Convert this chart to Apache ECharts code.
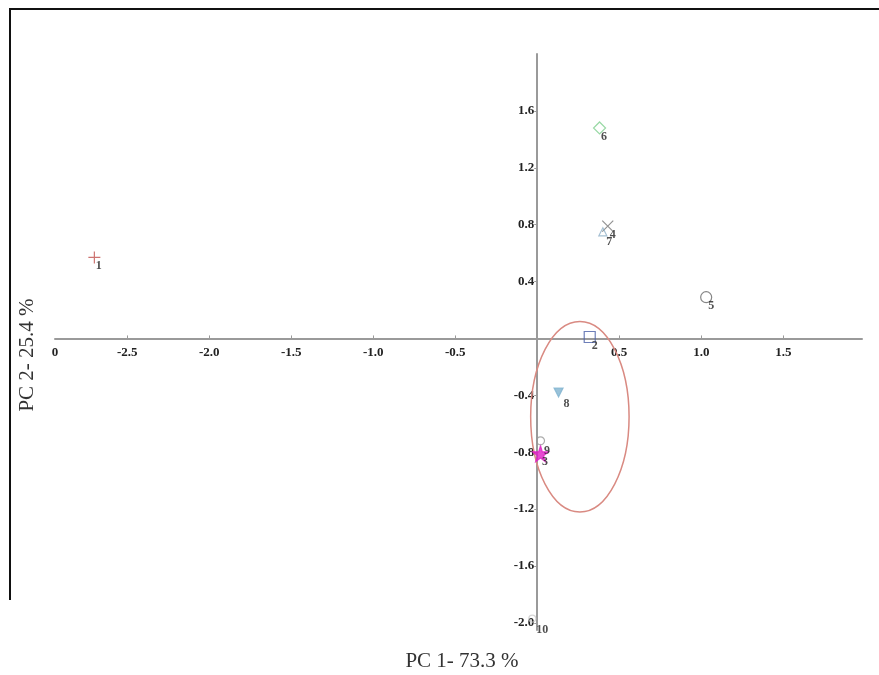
<!DOCTYPE html>
<html>
<head>
<meta charset="utf-8">
<style>
  html, body { margin: 0; padding: 0; background: #fff; }
  #chart { width: 879px; height: 675px; }
</style>
<script src="https://cdn.jsdelivr.net/npm/echarts@6/dist/echarts.min.js"></script>
</head>
<body>
<div id="chart"></div>
<script>
// sample names and PCA scores
var sampleNames = ['1', '2', '3', '4', '5', '6', '7', '8', '9', '10'];
var pc1Values = [-2.70, 0.32, 0.02, 0.43, 1.03, 0.38, 0.40, 0.13, 0.02, -0.03];
var pc2Values = [0.57, 0.01, -0.81, 0.79, 0.29, 1.48, 0.75, -0.38, -0.72, -1.97];
// tick labels
var xTickValues = [-2.5, -2.0, -1.5, -1.0, -0.5, 0.5, 1.0, 1.5];
var yTickValues = [1.6, 1.2, 0.8, 0.4, -0.4, -0.8, -1.2, -1.6, -2.0];
// ellipse round the lower cluster: centre x, centre y, radius x, radius y
var ellipseData = [[0.26, -0.55, 0.30, 0.67]];

var markerStyles = [
  {symbol: 'path://M6,0L6,12M0,6L12,6', size: 12, fill: 'none', stroke: '#c0504d'},
  {symbol: 'rect', size: 11, fill: 'none', stroke: '#4a5fa8'},
  {symbol: 'path://M50,0L61,35L98,35L68,57L79,91L50,70L21,91L32,57L2,35L39,35Z', size: 16, fill: '#e01fc6', stroke: '#e01fc6'},
  {symbol: 'path://M0,0L12,12M12,0L0,12', size: 11, fill: 'none', stroke: '#777'},
  {symbol: 'circle', size: 11, fill: 'none', stroke: '#666'},
  {symbol: 'diamond', size: 12, fill: 'none', stroke: '#7fd08f'},
  {symbol: 'triangle', size: 8, fill: 'none', stroke: '#8fb0c8'},
  {symbol: 'path://M0,0L12,0L6,10Z', size: 9, fill: '#7fb3d0', stroke: '#7fb3d0'},
  {symbol: 'circle', size: 8, fill: 'none', stroke: '#999'},
  {symbol: 'circle', size: 7, fill: 'none', stroke: '#ccc'}
];

var pointData = [];
for (var i = 0; i < sampleNames.length; i++) {
  var st = markerStyles[i];
  pointData.push({
    name: sampleNames[i],
    value: [pc1Values[i], pc2Values[i]],
    symbol: st.symbol,
    symbolSize: st.size,
    itemStyle: {color: st.fill, borderColor: st.stroke, borderWidth: 1.2}
  });
}

var serif = '"Liberation Serif", "DejaVu Serif", serif';
var gridBox = {left: 55, right: 17, top: 54, bottom: 45};
var myChart = echarts.init(document.getElementById('chart'));
var option = {
  animation: false,
  grid: gridBox,
  xAxis: {
    type: 'value',
    min: -2.94,
    max: 1.98,
    axisLine: {onZero: false, lineStyle: {color: '#9a9a9a', width: 2}},
    axisTick: {show: true, inside: true, length: 3, customValues: xTickValues, lineStyle: {color: '#9a9a9a'}},
    axisLabel: {
      customValues: [-2.94].concat(xTickValues),
      showMinLabel: true,
      margin: 8,
      color: '#222',
      fontFamily: serif,
      fontWeight: 'bold',
      fontSize: 13,
      formatter: function (v) { return v < -2.9 ? '0' : v.toFixed(1); }
    },
    splitLine: {show: false}
  },
  yAxis: {
    type: 'value',
    min: -2.05,
    max: 2.0,
    axisLine: {onZero: false, lineStyle: {color: '#9a9a9a', width: 2}},
    axisTick: {show: true, length: 3, customValues: yTickValues, lineStyle: {color: '#9a9a9a'}},
    axisLabel: {
      customValues: yTickValues,
      margin: 3,
      color: '#222',
      fontFamily: serif,
      fontWeight: 'bold',
      fontSize: 13,
      formatter: function (v) { return v.toFixed(1); }
    },
    splitLine: {show: false}
  },
  graphic: [
    {type: 'polyline', shape: {points: [[10, 600], [10, 9], [879, 9]]}, style: {stroke: '#111', lineWidth: 2, fill: 'none'}},
    {type: 'text', x: 462, y: 661, style: {text: 'PC 1- 73.3 %', font: '21px ' + serif, fill: '#333', textAlign: 'center', textVerticalAlign: 'middle'}},
    {type: 'text', x: 27, y: 355, rotation: Math.PI / 2, style: {text: 'PC 2- 25.4 %', font: '21px ' + serif, fill: '#333', textAlign: 'center', textVerticalAlign: 'middle'}}
  ],
  series: [
    {
      type: 'custom',
      data: ellipseData,
      silent: true,
      renderItem: function (params, api) {
        var c = api.coord([api.value(0), api.value(1)]);
        var s = api.size([api.value(2), api.value(3)]);
        return {
          type: 'ellipse',
          shape: {cx: c[0], cy: c[1], rx: s[0], ry: s[1]},
          style: {fill: 'none', stroke: '#d98a82', lineWidth: 1.5}
        };
      }
    },
    {
      type: 'scatter',
      data: pointData,
      label: {
        show: true,
        formatter: '{b}',
        position: [10, 11],
        color: '#222',
        fontFamily: serif,
        fontWeight: 'bold',
        fontSize: 12
      }
    }
  ]
};
myChart.setOption(option);

// move the axes so they cross at the origin, labels and all
var origin = myChart.convertToPixel({gridIndex: 0}, [0, 0]);
myChart.setOption({
  xAxis: {offset: -(675 - gridBox.bottom - origin[1])},
  yAxis: {offset: -(origin[0] - gridBox.left)}
});
</script>
</body>
</html>
